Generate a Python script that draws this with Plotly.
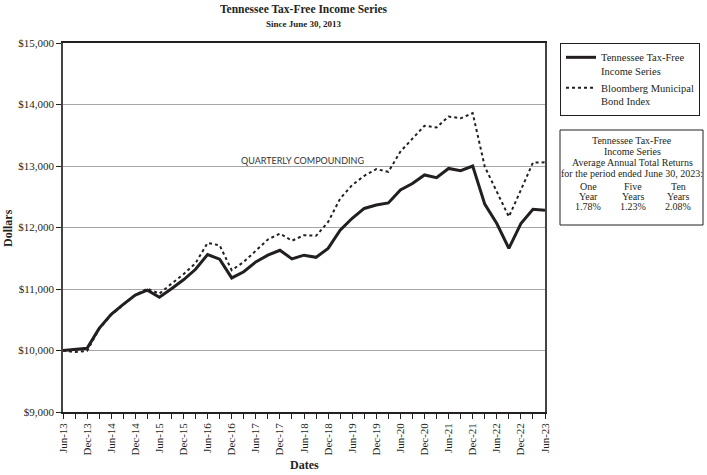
import plotly.graph_objects as go

quarters = [
    "Jun-13", "Sep-13", "Dec-13", "Mar-14", "Jun-14", "Sep-14", "Dec-14", "Mar-15",
    "Jun-15", "Sep-15", "Dec-15", "Mar-16", "Jun-16", "Sep-16", "Dec-16", "Mar-17",
    "Jun-17", "Sep-17", "Dec-17", "Mar-18", "Jun-18", "Sep-18", "Dec-18", "Mar-19",
    "Jun-19", "Sep-19", "Dec-19", "Mar-20", "Jun-20", "Sep-20", "Dec-20", "Mar-21",
    "Jun-21", "Sep-21", "Dec-21", "Mar-22", "Jun-22", "Sep-22", "Dec-22", "Mar-23",
    "Jun-23",
]

tn_series = [
    10000, 10015, 10035, 10360, 10590, 10750, 10900, 10980, 10865, 11005,
    11150, 11320, 11560, 11485, 11180, 11280, 11440, 11550, 11630, 11490,
    11550, 11515, 11660, 11955, 12150, 12310, 12365, 12400, 12610, 12715,
    12855, 12810, 12960, 12925, 13000, 12380, 12065, 11660, 12065, 12295,
    12280,
]

bloomberg_index = [
    10000, 9975, 9995, 10350, 10580, 10745, 10905, 11005, 10925, 11085,
    11240, 11420, 11750, 11710, 11305, 11440, 11630, 11805, 11900, 11785,
    11875, 11865, 12090, 12470, 12690, 12840, 12950, 12905, 13235, 13440,
    13655, 13625, 13805, 13775, 13860, 12990, 12580, 12175, 12610, 13055,
    13060,
]

y_ticks = [9000, 10000, 11000, 12000, 13000, 14000, 15000]
y_tick_labels = ["$9,000", "$10,000", "$11,000", "$12,000", "$13,000", "$14,000", "$15,000"]

x_tick_text = [q if i % 2 == 0 else "" for i, q in enumerate(quarters)]

returns_header = ["Tennessee Tax-Free", "Income Series", "Average Annual Total Returns",
                  "for the period ended June 30, 2023:"]
returns_period_top = ["One", "Five", "Ten"]
returns_period_bottom = ["Year", "Years", "Years"]
returns_values = ["1.78%", "1.23%", "2.08%"]

SERIF = "Liberation Serif, Times New Roman, serif"
INK = "#231f20"

fig = go.Figure()
fig.add_trace(go.Scatter(
    x=quarters, y=tn_series, mode="lines",
    name="Tennessee Tax-Free<br>Income Series",
    line=dict(color=INK, width=3),
))
fig.add_trace(go.Scatter(
    x=quarters, y=bloomberg_index, mode="lines",
    name="Bloomberg Municipal<br>Bond Index",
    line=dict(color=INK, width=2, dash="dot"),
))

# plot area: x 63..545 px, y 43..412 px
L, R, T, B = 63, 545, 43, 412
W, H = R - L, B - T
def px(x):
    return (x - L) / W
def py(y):
    return (B - y) / H

fig.update_layout(
    width=707, height=475,
    margin=dict(l=L, r=707 - R, t=T, b=475 - B, autoexpand=False),
    paper_bgcolor="white", plot_bgcolor="white",
    font=dict(family=SERIF, size=11, color=INK),
    showlegend=True,
    legend=dict(
        x=px(560), y=py(43), xanchor="left", yanchor="top",
        bordercolor=INK, borderwidth=1, bgcolor="white",
        font=dict(family=SERIF, size=10.5, color=INK),
        itemwidth=30, valign="top",
    ),
    xaxis=dict(
        type="category", range=[0, 40], automargin=False,
        tickmode="array", tickvals=quarters, ticktext=x_tick_text,
        tickangle=-90, ticks="outside", ticklen=5, tickcolor=INK,
        showline=True, linecolor=INK, linewidth=1.5, mirror=True,
        showgrid=False, zeroline=False,
        tickfont=dict(family=SERIF, size=11, color=INK),
    ),
    yaxis=dict(
        range=[9000, 15000], automargin=False,
        tickmode="array", tickvals=y_ticks, ticktext=y_tick_labels,
        ticks="outside", ticklen=5, tickcolor=INK,
        showline=True, linecolor="#444", linewidth=1.5, mirror=True,
        showgrid=True, gridcolor="#a6a6a6", gridwidth=1, zeroline=False,
        tickfont=dict(family=SERIF, size=11, color=INK),
    ),
)

annotations = [
    dict(text="<b>Tennessee Tax-Free Income Series</b>", x=px(304), y=py(9),
         font=dict(family=SERIF, size=11.5, color=INK)),
    dict(text="<b>Since June 30, 2013</b>", x=px(304), y=py(24),
         font=dict(family=SERIF, size=9, color=INK)),
    dict(text="<b>Dates</b>", x=px(304), y=py(465),
         font=dict(family=SERIF, size=12, color=INK)),
    dict(text="<b>Dollars</b>", x=px(8), y=py(228), textangle=-90,
         font=dict(family=SERIF, size=12, color=INK)),
    dict(text="QUARTERLY COMPOUNDING", x=px(302), y=py(160),
         font=dict(family="Lato, Liberation Sans, sans-serif", size=9, color="#333")),
]
for yy, line in zip([140, 151, 162, 173], returns_header):
    annotations.append(dict(text=line, x=px(632), y=py(yy),
                            font=dict(family=SERIF, size=10, color=INK)))
col_x = [588, 633, 678]
for cx, top, bot, val in zip(col_x, returns_period_top, returns_period_bottom, returns_values):
    for yy, t in zip([186.5, 196.5, 206.5], [top, bot, val]):
        annotations.append(dict(text=t, x=px(cx), y=py(yy),
                                font=dict(family=SERIF, size=10, color=INK)))
for a in annotations:
    a.update(xref="paper", yref="paper", showarrow=False, xanchor="center", yanchor="middle")
fig.update_layout(annotations=annotations)

fig.add_shape(type="rect", xref="paper", yref="paper",
              x0=px(560), x1=px(703), y0=py(225), y1=py(130),
              line=dict(color=INK, width=1), fillcolor="rgba(0,0,0,0)")

fig.write_html("out.html",
               config={"displayModeBar": False},
               post_script="document.body.style.margin='0';document.body.style.overflow='hidden';")
